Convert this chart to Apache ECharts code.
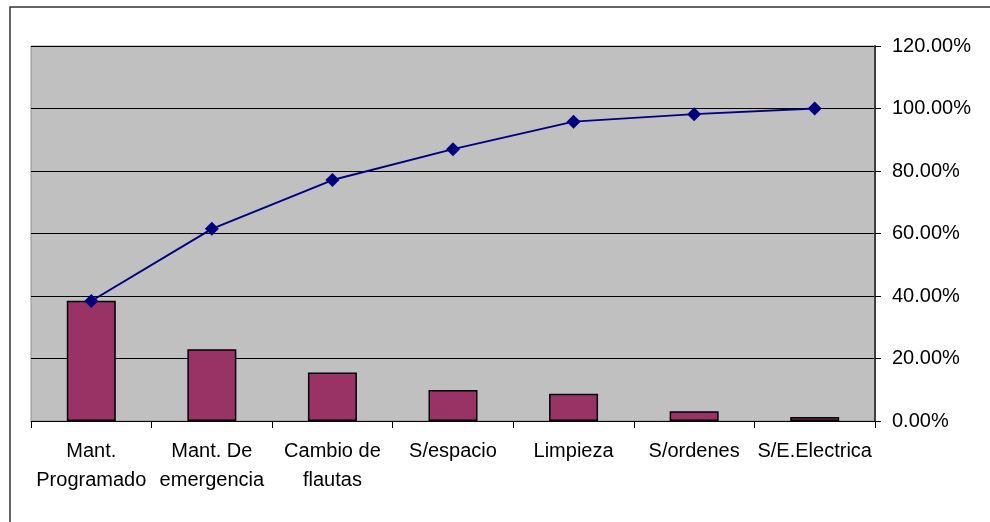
<!DOCTYPE html>
<html>
<head>
<meta charset="utf-8">
<script src="https://cdn.jsdelivr.net/npm/echarts@6/dist/echarts.min.js"></script>
<style>
  html, body { margin: 0; padding: 0; background: #ffffff; }
  #chart { width: 990px; height: 522px; }
</style>
</head>
<body>
<div id="chart"></div>
<script>
// Causes of downtime: individual share (bars) and cumulative share (line), in %
const categories = [
  'Mant.\nProgramado',
  'Mant. De\nemergencia',
  'Cambio de\nflautas',
  'S/espacio',
  'Limpieza',
  'S/ordenes',
  'S/E.Electrica'
];
const sharePct = [38.5, 23.0, 15.5, 9.9, 8.7, 3.1, 1.3];
const cumulativePct = [38.4, 61.5, 77.1, 87.0, 95.8, 98.2, 100.0];
const axisTicks = [0, 20, 40, 60, 80, 100, 120];

const FONT = '"Liberation Sans", Arial, sans-serif';
const chart = echarts.init(document.getElementById('chart'), null, { renderer: 'canvas' });

chart.setOption({
  animation: false,
  backgroundColor: '#ffffff',
  graphic: [{
    type: 'rect',
    shape: { x: 10, y: 7, width: 1000, height: 600 },
    style: { fill: 'none', stroke: '#333333', lineWidth: 1.5 },
    silent: true,
    z: -1
  }],
  grid: {
    left: 31, right: 115, top: 46, bottom: 101,
    show: true,
    backgroundColor: '#C0C0C0',
    borderColor: '#909090',
    borderWidth: 1
  },
  xAxis: {
    type: 'category',
    data: categories,
    boundaryGap: true,
    axisLine: { show: true, lineStyle: { color: '#000000', width: 1 } },
    axisTick: { show: true, alignWithLabel: false, inside: false, length: 7, lineStyle: { color: '#000000' } },
    axisLabel: {
      interval: 0,
      margin: 16,
      fontFamily: FONT,
      fontSize: 20,
      lineHeight: 29,
      color: '#000000'
    }
  },
  yAxis: {
    type: 'value',
    position: 'right',
    min: axisTicks[0],
    max: axisTicks[axisTicks.length - 1],
    interval: 20,
    axisLine: { show: true, lineStyle: { color: '#404040', width: 2 } },
    axisTick: { show: true, inside: false, length: 6, lineStyle: { color: '#000000' } },
    splitLine: { show: true, lineStyle: { color: '#000000', width: 1 } },
    axisLabel: {
      margin: 17,
      fontFamily: FONT,
      fontSize: 20,
      color: '#000000',
      formatter: v => v.toFixed(2) + '%'
    }
  },
  series: [
    {
      type: 'bar',
      data: sharePct,
      barWidth: 49,
      itemStyle: { color: '#993366', borderColor: '#000000', borderWidth: 1.5 },
      z: 2
    },
    {
      type: 'line',
      data: cumulativePct,
      symbol: 'diamond',
      symbolSize: 14,
      lineStyle: { color: '#000080', width: 2 },
      itemStyle: { color: '#000080' },
      z: 3
    }
  ]
});
</script>
</body>
</html>
